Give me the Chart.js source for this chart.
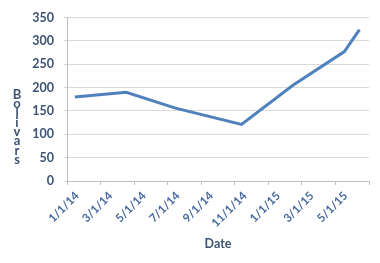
<!DOCTYPE html>
<html>
<head>
<meta charset="utf-8">
<script src="https://cdn.jsdelivr.net/npm/chart.js@4"></script>
<style>
html,body{margin:0;padding:0;background:#fff;}
#wrap{width:380px;height:263px;position:relative;}
</style>
</head>
<body>
<div id="wrap"><canvas id="c" width="380" height="263"></canvas></div>
<script>
// Data
const pointDates = ['2014-01-15','2014-04-17','2014-07-15','2014-11-13','2015-02-15','2015-05-17','2015-06-14'];
const bolivars = [180, 190, 156, 121, 205, 277, 324];
const tickLabels = ['1/1/14','3/1/14','5/1/14','7/1/14','9/1/14','11/1/14','1/1/15','3/1/15','5/1/15'];
const yTitle = 'Bolivars';
const xTitle = 'Date';

function monthsSince2014(s){
  const [y,m,d] = s.split('-').map(Number);
  return (y-2014)*12 + (m-1) + (d-1)/30;
}
const points = pointDates.map((d,i)=>({x: monthsSince2014(d), y: bolivars[i]}));

const yLabelColor = '#3E5273';
const xLabelColor = '#4669A0';
const labelShift = 0.6; // label anchor offset (months) right of tick

const stackedTitle = {
  id:'stackedTitle',
  afterDraw(chart){
    const ctx = chart.ctx, a = chart.chartArea;
    const letters = yTitle.split('');
    const lh = 9.3;
    const cy = (a.top + a.bottom)/2 + 28;
    const y0 = cy - (letters.length-1)*lh/2;
    ctx.save();
    ctx.font = 'bold 13px Lato';
    ctx.fillStyle = yLabelColor;
    ctx.textAlign = 'center';
    ctx.textBaseline = 'middle';
    letters.forEach((ch,i)=>ctx.fillText(ch, 17, y0 + i*lh));
    ctx.restore();
  }
};

new Chart(document.getElementById('c'), {
  type:'line',
  data:{ datasets:[{
    data: points,
    borderColor:'#4F81BD',
    borderWidth:3,
    pointRadius:0,
    tension:0,
    fill:false,
    xAxisID:'x'
  }]},
  options:{
    responsive:false,
    animation:false,
    layout:{padding:{left:28,right:11,top:4,bottom:4}},
    plugins:{legend:{display:false},tooltip:{enabled:false}},
    scales:{
      x:{
        type:'linear', min:0, max:18, position:'bottom',
        afterBuildTicks(s){ s.ticks = []; for(let v=0; v<=18; v+=2) s.ticks.push({value:v}); },
        grid:{display:true, drawOnChartArea:false, drawTicks:true, tickLength:4, color:'#BFBFBF'},
        border:{color:'#BFBFBF'},
        ticks:{display:false}
      },
      x2:{
        type:'linear', min:0, max:18, position:'bottom',
        afterBuildTicks(s){ s.ticks = tickLabels.map((t,i)=>({value:i*2+labelShift})); },
        afterFit(s){ s.height = 74; },
        grid:{display:false, drawTicks:false},
        border:{display:false},
        ticks:{
          autoSkip:false, maxRotation:45, minRotation:45, padding:4,
          color:xLabelColor, font:{family:'Lato', weight:'bold', size:11.5},
          callback:(v)=> { const i = Math.round((v-labelShift)/2); return tickLabels[i] !== undefined ? tickLabels[i] : ''; }
        },
        title:{display:true, text:xTitle, color:yLabelColor, font:{family:'Lato', weight:'bold', size:12.5}, padding:{top:0,bottom:8}}
      },
      y:{
        min:0, max:350,
        afterFit(s){ s.width = 39; },
        ticks:{stepSize:50, padding:10, color:yLabelColor, font:{family:'Lato', weight:'bold', size:12.5}},
        grid:{color:'#D9D9D9', tickLength:3, lineWidth:1},
        border:{color:'#BFBFBF'}
      }
    }
  },
  plugins:[stackedTitle]
});
</script>
</body>
</html>
